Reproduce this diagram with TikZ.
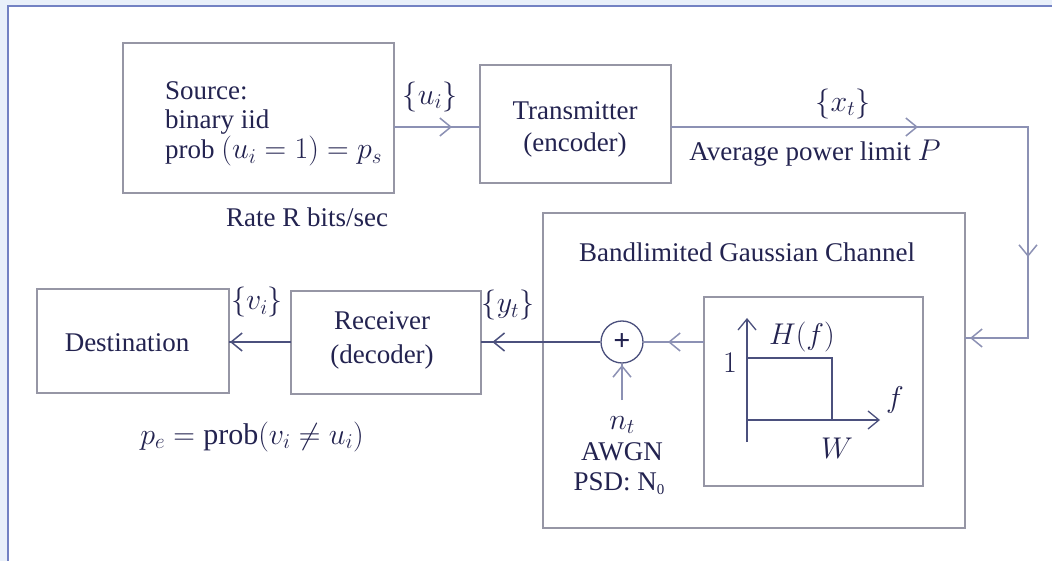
\RequirePackage{fix-cm}
\documentclass[tikz,border=0pt]{standalone}
\usepackage{fontspec}
\setmainfont{Liberation Serif}
\usetikzlibrary{arrows.meta,decorations.markings,calc}
\definecolor{txt}{RGB}{35,35,80}
\definecolor{boxc}{RGB}{150,150,165}
\definecolor{lnA}{RGB}{140,145,180}
\definecolor{lnB}{RGB}{75,80,125}
\definecolor{band}{RGB}{233,240,250}
\definecolor{framec}{RGB}{115,130,195}
\newcommand\mymath[1]{{\fontsize{30}{34}\selectfont$#1$}}
\begin{document}
\begin{tikzpicture}[x=1pt,y=-1pt,
  box/.style={draw=boxc, line width=1.5pt, inner sep=0pt, outer sep=0pt, anchor=north west},
  lbl/.style={text=txt, font=\fontsize{27}{32}\selectfont, inner sep=0pt},
  barb/.tip={Straight Barb[length=11pt,width=18pt]},
  am/.style={postaction={decorate,decoration={markings,mark=at position #1 with {\arrow{barb}}}}},
  linea/.style={draw=lnA, line width=1.5pt},
  lineb/.style={draw=lnB, line width=1.5pt},
]
\useasboundingbox (0,0) rectangle (1052,561);
\fill[white] (0,0) rectangle (1052,561);
% frame
\fill[band] (0,0) rectangle (1052,6);
\fill[band] (0,0) rectangle (8,561);
\draw[framec, line width=2pt] (8,561) -- (8,6.5) -- (1052,6.5);

% boxes
\node[box, minimum width=271pt, minimum height=150pt] (src) at (123,43) {};
\node[box, minimum width=191pt, minimum height=118pt] (tx) at (480,65) {};
\node[box, minimum width=422pt, minimum height=315pt] (ch) at (543,213) {};
\node[box, minimum width=219pt, minimum height=189pt] (flt) at (704,297) {};
\node[box, minimum width=190pt, minimum height=103pt] (rx) at (291,291) {};
\node[box, minimum width=192pt, minimum height=104pt] (dst) at (37,289) {};
\node[draw=lnB, circle, minimum size=42pt, inner sep=0pt, line width=1.3pt] (sum) at (622,342) {};
\node[lbl] (plus) at (622,342) {{\fontsize{30}{34}\selectfont\bfseries +}};

% texts
\node[lbl, anchor=base west] (s1) at (165,100) {Source:};
\node[lbl, anchor=base west] (s2) at (165,129) {binary iid};
\node[lbl, anchor=base west] (s3) at (165,159) {prob \mymath{(u_i=1)=p_s}};
\node[lbl, anchor=base] (rate) at (307,227) {Rate R bits/sec};
\node[lbl] (ui) at (430,97) {\mymath{\{u_i\}}};
\node[lbl, anchor=base] (tx1) at (575,120) {Transmitter};
\node[lbl, anchor=base] (tx2) at (575,152) {(encoder)};
\node[lbl] (xt) at (843,104) {\mymath{\{x_t\}}};
\node[lbl, anchor=base] (pw) at (815,161) {Average power limit \mymath{P}};
\node[lbl, anchor=base] (chl) at (747,262) {Bandlimited Gaussian Channel};
\node[lbl] (hf) at (802,337) {\mymath{H(f)}};
\node[lbl] (one) at (730,363) {\mymath{1}};
\node[lbl] (fl) at (895,400) {\mymath{f}};
\node[lbl] (wl) at (837,448) {\mymath{W}};
\node[lbl] (nt) at (622,425) {\mymath{n_t}};
\node[lbl, anchor=base] (awgn) at (622,460) {AWGN};
\node[lbl, anchor=base] (psd) at (619,490) {PSD: N\raisebox{-4pt}{\fontsize{15}{15}\selectfont 0}};
\node[lbl, anchor=base] (dtxt) at (127,352) {Destination};
\node[lbl, anchor=base] (rx1) at (382,330) {Receiver};
\node[lbl, anchor=base] (rx2) at (382,363) {(decoder)};
\node[lbl] (vi) at (257,302) {\mymath{\{v_i\}}};
\node[lbl] (yt) at (508,305) {\mymath{\{y_t\}}};
\node[lbl, anchor=base] (pe) at (252,444) {\mymath{p_e=\mathrm{prob}(v_i\neq u_i)}};

% connector coordinates
\coordinate (l1) at (0,127);
\coordinate (c1) at (1028,127);
\coordinate (c2) at (1028,338);
\coordinate (l2) at (0,342);
\coordinate (nz) at (622,400);

% connectors
\draw[linea, am=58pt] (src.east |- l1) -- (tx.west |- l1);
\draw[linea, am=247pt, am=487pt, am=626pt] (tx.east |- l1) -- (c1) -- (c2) -- (ch.east |- c2);
\draw[linea, am=36pt] (flt.west |- l2) -- (sum.east);
\draw[lineb, am=108pt] (sum.west) -- (rx.east |- l2);
\draw[lineb, am=61pt] (rx.west |- l2) -- (dst.east |- l2);
\draw[linea, am=35pt] (nz) -- (sum.south);

% filter plot
\coordinate (ax0) at (747,442);
\coordinate (ax1) at (747,318);
\coordinate (ay0) at (747,420);
\coordinate (ay1) at (880,420);
\draw[lineb, line width=1.3pt, -{barb}] (ax0) -- (ax1);
\draw[lineb, line width=1.3pt, -{barb}] (ay0) -- (ay1);
\draw[lineb, line width=1.3pt] (747,358) -- (832,358) -- (832,420);
\end{tikzpicture}
\end{document}
